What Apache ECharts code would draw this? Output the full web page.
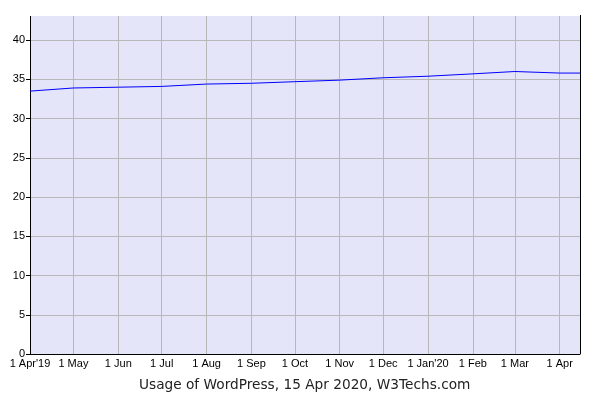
<!DOCTYPE html>
<html><head><meta charset="utf-8">
<script src="https://cdn.jsdelivr.net/npm/echarts@6/dist/echarts.min.js"></script>
<style>html,body{margin:0;padding:0;background:#fff}#c{width:600px;height:400px}</style>
</head><body><div id="c"></div>
<script>
const dates = ['2019-04-01','2019-05-01','2019-06-01','2019-07-01','2019-08-01','2019-09-01','2019-10-01','2019-11-01','2019-12-01','2020-01-01','2020-02-01','2020-03-01','2020-04-01','2020-04-15'];
const usage = [33.5, 33.9, 34.0, 34.1, 34.4, 34.5, 34.7, 34.9, 35.2, 35.4, 35.7, 36.0, 35.8, 35.8];
const monthNames = ['Jan','Feb','Mar','Apr','May','Jun','Jul','Aug','Sep','Oct','Nov','Dec'];
const yTicks = [0,5,10,15,20,25,30,35,40];
const yMax = 43.2;
const titleText = 'Usage of WordPress, 15 Apr 2020, W3Techs.com';
const DAY = 86400000;

const chart = echarts.init(document.getElementById('c'), null, {renderer:'canvas'});
chart.setOption({
  animation:false,
  backgroundColor:'#ffffff',
  title:{text:titleText,left:134,bottom:3,textStyle:{fontFamily:'DejaVu Sans',fontSize:13.7,fontWeight:'normal',color:'#222'}},
  grid:{left:30,right:20,top:15,bottom:46,show:true,backgroundColor:'#e5e5f9',borderWidth:0,borderColor:'transparent'},
  xAxis:{type:'time',min:dates[0],max:dates[dates.length-1],minInterval:28*DAY,maxInterval:31*DAY,splitNumber:13,
    axisLine:{show:true,lineStyle:{color:'#000',width:1}},
    axisTick:{show:false},
    splitLine:{show:true,showMinLine:false,showMaxLine:false,lineStyle:{color:'#b8b8b8',width:1}},
    axisLabel:{showMaxLabel:false,color:'#000',fontFamily:'Liberation Sans',fontSize:11,margin:4,hideOverlap:false,
      formatter:function(v){const d=new Date(v);const m=d.getMonth();let s='1 '+monthNames[m];
        if(d.getTime()===new Date(dates[0]).getTime()||m===0){s+="'"+String(d.getFullYear()).slice(2);}
        return s;}}
  },
  yAxis:{type:'value',min:0,max:yMax,interval:5,
    axisLine:{show:true,lineStyle:{color:'#000',width:1}},
    axisTick:{show:true,length:4,lineStyle:{color:'#000'}},
    splitLine:{show:true,showMinLine:false,showMaxLine:false,lineStyle:{color:'#b8b8b8',width:1}},
    axisLabel:{color:'#000',fontFamily:'Liberation Sans',fontSize:11,margin:5,showMaxLabel:false,
      formatter:function(v){return yTicks.indexOf(v)>=0?String(v):'';}}
  },
  series:[{type:'line',data:dates.map((d,i)=>[d,usage[i]]),showSymbol:false,symbol:'none',
    lineStyle:{color:'#0000ff',width:1},z:5,
    markLine:{silent:true,symbol:'none',label:{show:false},lineStyle:{color:'#000',type:'solid',width:1},
      data:[{xAxis:dates[dates.length-1]},{yAxis:yMax,lineStyle:{color:'#ffffff',type:'solid',width:2}}]}}]
});
</script></body></html>
